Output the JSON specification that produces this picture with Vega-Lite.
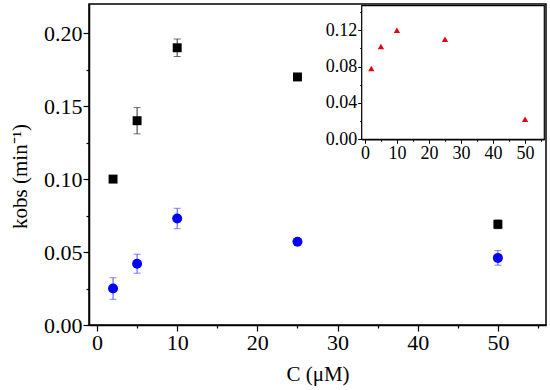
{
  "$schema": "https://vega.github.io/schema/vega-lite/v6.json",
  "width": 457,
  "height": 321,
  "autosize": "none",
  "padding": {"left": 89, "top": 4, "right": 4, "bottom": 65},
  "config": {
    "view": {"stroke": "black", "strokeWidth": 1.5},
    "font": "Liberation Serif",
    "axis": {
      "grid": false,
      "domainColor": "black",
      "domainWidth": 1.5,
      "tickColor": "black",
      "tickWidth": 1.2,
      "labelColor": "black",
      "titleColor": "black",
      "labelFont": "Liberation Serif",
      "titleFont": "Liberation Serif",
      "titleFontWeight": "normal"
    }
  },
  "datasets": {
    "main": [
      {"C": 2, "k": 0.100, "lo": null, "hi": null, "series": "black"},
      {"C": 5, "k": 0.140, "lo": 0.131, "hi": 0.149, "series": "black"},
      {"C": 10, "k": 0.190, "lo": 0.184, "hi": 0.196, "series": "black"},
      {"C": 25, "k": 0.170, "lo": null, "hi": null, "series": "black"},
      {"C": 50, "k": 0.069, "lo": 0.066, "hi": 0.072, "series": "black"},
      {"C": 2, "k": 0.025, "lo": 0.0176, "hi": 0.0324, "series": "blue"},
      {"C": 5, "k": 0.042, "lo": 0.0355, "hi": 0.0485, "series": "blue"},
      {"C": 10, "k": 0.073, "lo": 0.066, "hi": 0.080, "series": "blue"},
      {"C": 25, "k": 0.057, "lo": null, "hi": null, "series": "blue"},
      {"C": 50, "k": 0.046, "lo": 0.041, "hi": 0.051, "series": "blue"}
    ],
    "inset": [
      {"C": 2, "k": 0.078},
      {"C": 5, "k": 0.102},
      {"C": 10, "k": 0.120},
      {"C": 25, "k": 0.110},
      {"C": 50, "k": 0.022}
    ]
  },
  "layer": [
    {
      "data": {"name": "main"},
      "encoding": {
        "x": {
          "field": "C", "type": "quantitative",
          "scale": {"domain": [-1, 56], "nice": false, "zero": false},
          "axis": {
            "values": [0, 5, 10, 15, 20, 25, 30, 35, 40, 45, 50, 55],
            "labelExpr": "datum.value % 10 === 0 ? datum.label : ''",
            "tickSize": {"condition": {"test": "datum.value % 10 !== 0", "value": 3}, "value": 6},
            "labelFontSize": 22,
            "labelPadding": 1,
            "title": "C (μM)",
            "titleFontSize": 21,
            "titleBaseline": "middle",
            "titleY": 49
          }
        },
        "y": {
          "field": "k", "type": "quantitative",
          "scale": {"domain": [0, 0.22], "nice": false, "zero": false},
          "axis": {
            "values": [0, 0.025, 0.05, 0.075, 0.1, 0.125, 0.15, 0.175, 0.2],
            "format": ".2f",
            "labelExpr": "round(datum.value * 1000) % 50 === 0 ? datum.label : ''",
            "tickSize": {"condition": {"test": "round(datum.value * 1000) % 50 !== 0", "value": 3}, "value": 6},
            "labelFontSize": 22,
            "labelPadding": 1,
            "title": "kobs (min⁻¹)",
            "titleFontSize": 21,
            "titleAngle": -90,
            "titleAlign": "center",
            "titleBaseline": "middle",
            "titleX": -69,
            "titleY": 172
          }
        }
      },
      "layer": [
        {
          "transform": [{"filter": "datum.lo != null"}],
          "mark": {"type": "rule", "strokeWidth": 1},
          "encoding": {
            "y": {"field": "lo", "type": "quantitative"},
            "y2": {"field": "hi"},
            "stroke": {"field": "series", "type": "nominal", "scale": {"domain": ["black", "blue"], "range": ["#333333", "#5050ff"]}, "legend": null}
          }
        },
        {
          "transform": [{"filter": "datum.lo != null"}],
          "mark": {"type": "tick", "orient": "horizontal", "size": 7, "thickness": 1},
          "encoding": {
            "y": {"field": "lo", "type": "quantitative"},
            "color": {"field": "series", "type": "nominal", "scale": {"domain": ["black", "blue"], "range": ["#333333", "#5050ff"]}, "legend": null}
          }
        },
        {
          "transform": [{"filter": "datum.lo != null"}],
          "mark": {"type": "tick", "orient": "horizontal", "size": 7, "thickness": 1},
          "encoding": {
            "y": {"field": "hi", "type": "quantitative"},
            "color": {"field": "series", "type": "nominal", "scale": {"domain": ["black", "blue"], "range": ["#333333", "#5050ff"]}, "legend": null}
          }
        },
        {
          "mark": {"type": "point", "filled": true, "opacity": 1},
          "encoding": {
            "fill": {"field": "series", "type": "nominal", "scale": {"domain": ["black", "blue"], "range": ["#000000", "#0000ff"]}, "legend": null},
            "shape": {"field": "series", "type": "nominal", "scale": {"domain": ["black", "blue"], "range": ["square", "circle"]}, "legend": null},
            "size": {"field": "series", "type": "nominal", "scale": {"domain": ["black", "blue"], "range": [80, 100]}, "legend": null}
          }
        }
      ]
    },
    {
      "layer": [
        {
          "data": {"values": [{"frame": "inset"}]},
          "mark": {"type": "rect", "fill": "white", "stroke": "black", "strokeWidth": 1.2},
          "encoding": {
            "x": {
              "datum": -1, "type": "quantitative",
              "scale": {"domain": [-1, 56], "nice": false, "zero": false, "range": [272.7, 455.3]},
              "axis": {
                "orient": "bottom",
                "offset": -185.7,
                "values": [0, 5, 10, 15, 20, 25, 30, 35, 40, 45, 50, 55],
                "labelExpr": "datum.value % 10 === 0 ? datum.label : ''",
                "tickSize": {"condition": {"test": "datum.value % 10 !== 0", "value": 2}, "value": 4},
                "labelFontSize": 18,
                "labelPadding": 1,
                "domainWidth": 1.2,
                "tickWidth": 1,
                "title": null
              }
            },
            "x2": {"datum": 56},
            "y": {
              "datum": 0, "type": "quantitative",
              "scale": {"domain": [0, 0.147], "nice": false, "zero": false, "range": [135.3, 1.7]},
              "axis": {
                "orient": "left",
                "offset": -272.7,
                "values": [0, 0.02, 0.04, 0.06, 0.08, 0.1, 0.12, 0.14],
                "format": ".2f",
                "labelExpr": "round(datum.value * 100) % 4 === 0 ? datum.label : ''",
                "tickSize": {"condition": {"test": "round(datum.value * 100) % 4 !== 0", "value": 2}, "value": 4},
                "labelFontSize": 18,
                "labelPadding": 1,
                "domainWidth": 1.2,
                "tickWidth": 1,
                "title": null
              }
            },
            "y2": {"datum": 0.147}
          }
        },
        {
          "data": {"name": "inset"},
          "mark": {"type": "point", "shape": "triangle-up", "filled": true, "color": "#e8000b", "opacity": 1, "size": 40},
          "encoding": {
            "x": {"field": "C", "type": "quantitative"},
            "y": {"field": "k", "type": "quantitative"}
          }
        }
      ]
    }
  ],
  "resolve": {
    "scale": {"x": "independent", "y": "independent"},
    "axis": {"x": "independent", "y": "independent"}
  }
}
